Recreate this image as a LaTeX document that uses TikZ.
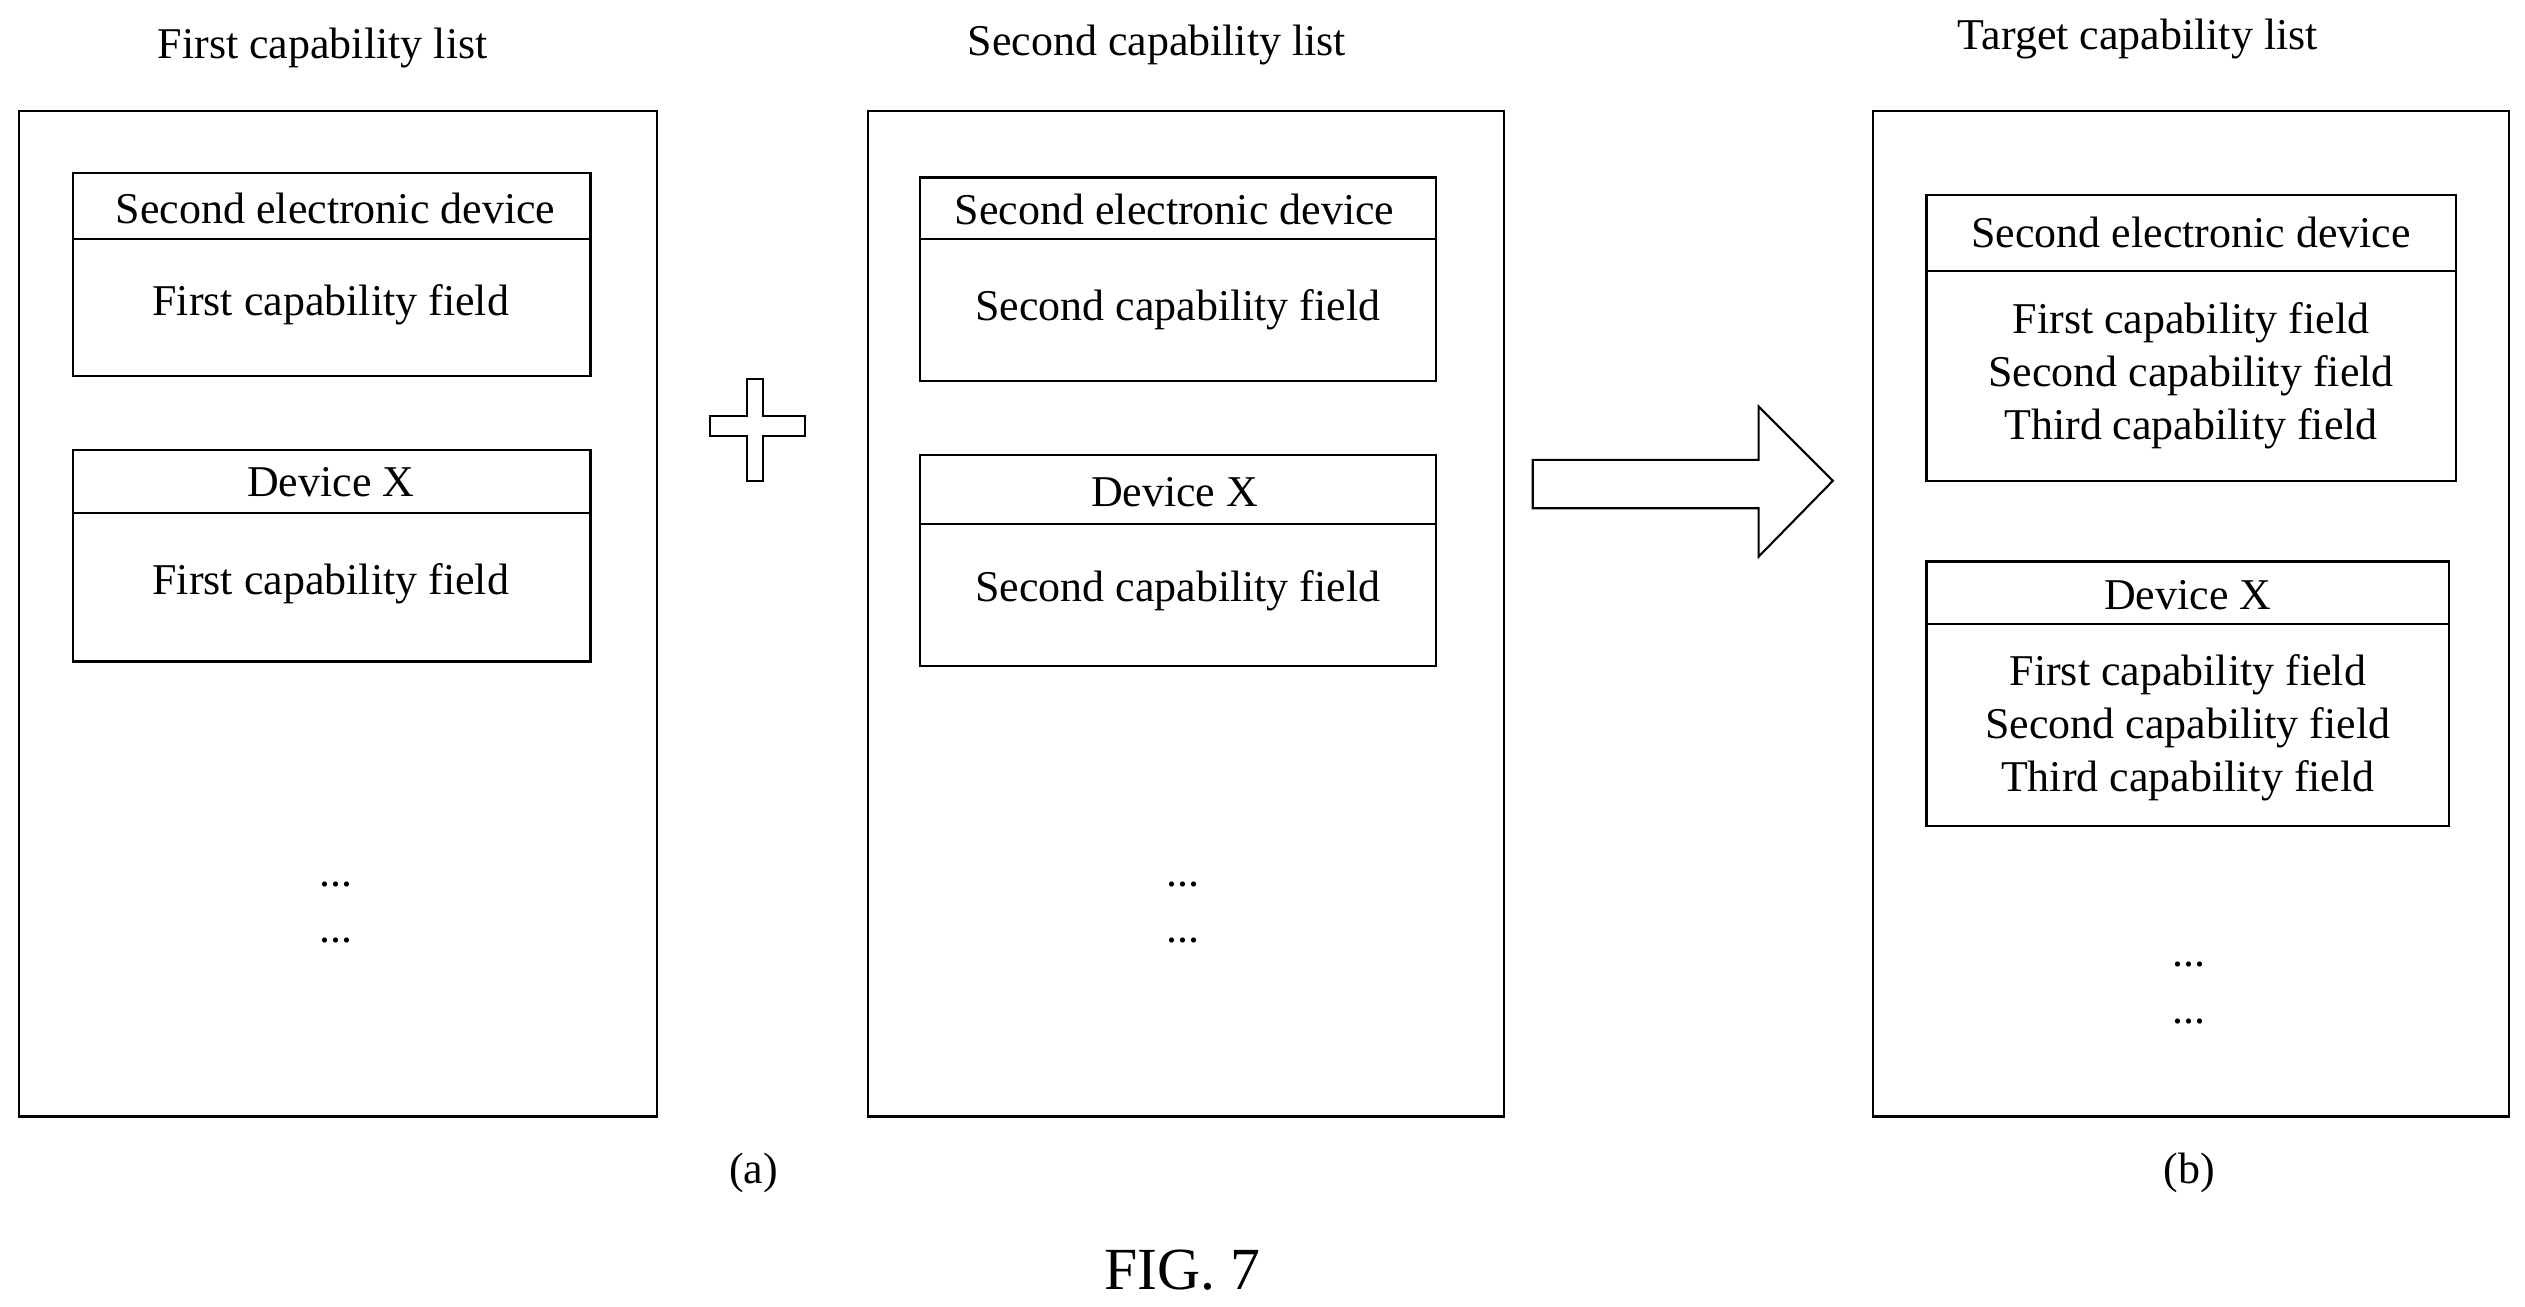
\documentclass[tikz,border=0pt]{standalone}
\usepackage{fontspec}
\setmainfont{Liberation Serif}
\usetikzlibrary{positioning}
\tikzset{
  list/.style={draw, line width=0.6pt},
  field/.style={font=\fontsize{12.5}{15}\selectfont, align=center},
  title/.style={font=\fontsize{12.5}{15}\selectfont},
  dots/.style={font=\fontsize{12.5}{15}\selectfont}
}
\begin{document}
\begin{tikzpicture}[x=0.016134cm, y=-0.016134cm]
  \useasboundingbox (0,0) rectangle (1565,810);
  % outer lists
  \draw[list] (12,69) rectangle (407,692);
  \draw[list] (538,69) rectangle (932,692);
  \draw[list] (1161,69) rectangle (1555,692);
  \node[title] (t1) at (200,30) {First capability list};
  \node[title] (t2) at (717,28) {Second capability list};
  \node[title] (t3) at (1325,24) {Target capability list};
  % first list
  \draw[list] (45,107) rectangle (366,233) (45,148) -- (366,148);
  \node[field] (a1h) at (208,129) {Second electronic device};
  \node[field] (a1f) at (205,189) {First capability field};
  \draw[list] (45,279) rectangle (366,410) (45,318) -- (366,318);
  \node[field] (a2h) at (205,299) {Device X};
  \node[field] (a2f) at (205,362) {First capability field};
  \node[dots] (a3) at (208,548) {...};
  \node[dots] (a4) at (208,583) {...};
  % second list
  \draw[list] (570,110) rectangle (890,236) (570,148) -- (890,148);
  \node[field] (b1h) at (728,130) {Second electronic device};
  \node[field] (b1f) at (730,192) {Second capability field};
  \draw[list] (570,282) rectangle (890,413) (570,325) -- (890,325);
  \node[field] (b2h) at (728,305) {Device X};
  \node[field] (b2f) at (730,366) {Second capability field};
  \node[dots] (b3) at (733,548) {...};
  \node[dots] (b4) at (733,583) {...};
  % target list
  \draw[list] (1194,121) rectangle (1522,298) (1194,168) -- (1522,168);
  \node[field] (c1h) at (1358,144) {Second electronic device};
  \node[field] (c1f) at (1358,233) {First capability field\\Second capability field\\Third capability field};
  \draw[list] (1194,348) rectangle (1518,512) (1194,387) -- (1518,387);
  \node[field] (c2h) at (1356,369) {Device X};
  \node[field] (c2f) at (1356,451) {First capability field\\Second capability field\\Third capability field};
  \node[dots] (c3) at (1357,598) {...};
  \node[dots] (c4) at (1357,633) {...};
  % plus and arrow
  \draw[list] (440,258) -- (463,258) -- (463,235) -- (473,235) -- (473,258) -- (499,258)
    -- (499,270) -- (473,270) -- (473,298) -- (463,298) -- (463,270) -- (440,270) -- cycle;
  \draw[list] (950,285) -- (1090,285) -- (1090,252) -- (1136,298) -- (1090,345)
    -- (1090,315) -- (950,315) -- cycle;
  % captions
  \node[title] (ca) at (467,727) {(a)};
  \node[title] (cb) at (1357,727) {(b)};
  \node[font=\fontsize{17}{20}\selectfont] (fig) at (733,787) {FIG. 7};
\end{tikzpicture}
\end{document}
